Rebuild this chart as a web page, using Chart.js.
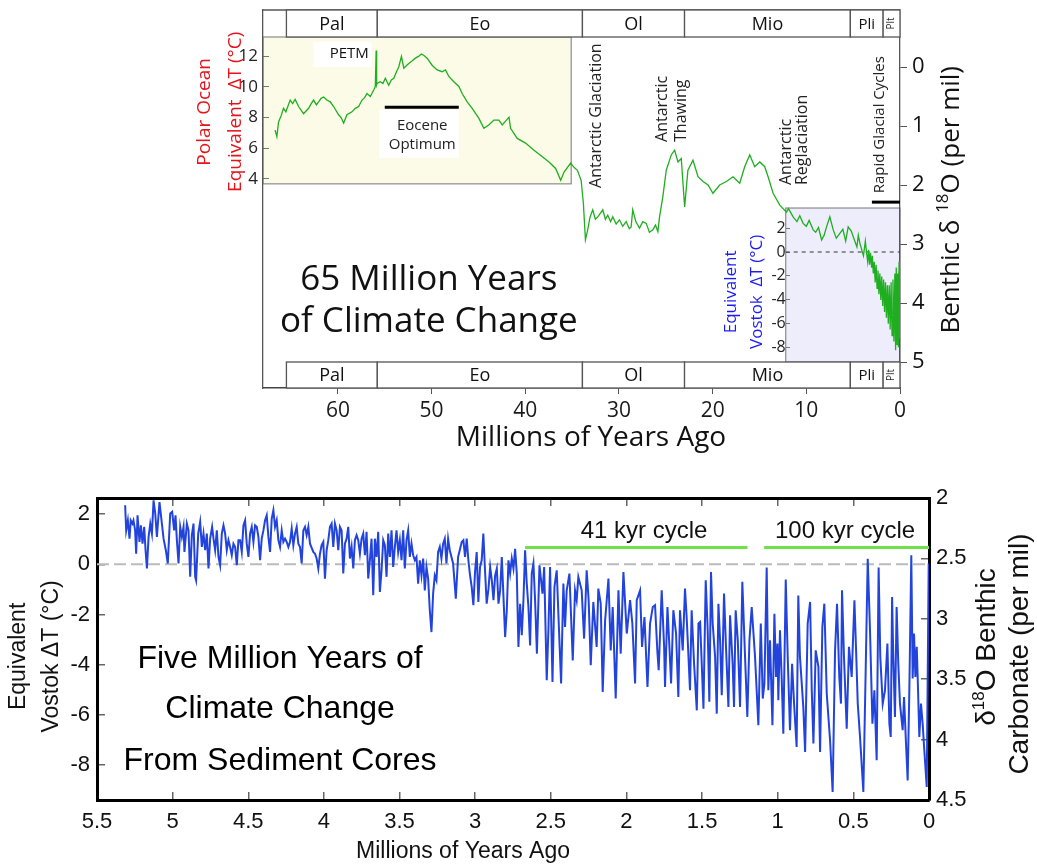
<!DOCTYPE html>
<html>
<head>
<meta charset="utf-8">
<title>65 Million Years of Climate Change</title>
<script src="https://cdn.jsdelivr.net/npm/chart.js@4.4.1/dist/chart.umd.min.js"></script>
<style>
html,body{margin:0;padding:0;background:#fff;overflow:hidden;}
#topChart{position:absolute;left:0;top:0;}
#bottomChart{position:absolute;left:0;top:465px;}
</style>
</head>
<body>
<canvas id="topChart" width="1037" height="465"></canvas>
<canvas id="bottomChart" width="1037" height="400"></canvas>
<script>
// ================= DATA =================
// Cenozoic benthic d18O record (Myr ago, per mil)
const cenozoicAge = [66.71,66.52,66.34,66.05,65.81,65.56,65.10,64.84,64.57,64.20,63.90,63.67,63.13,62.85,62.60,62.30,62.06,61.80,61.53,61.18,60.82,60.46,59.93,59.65,59.39,59.04,58.50,58.15,57.79,57.43,57.15,56.90,56.54,56.18,56.01,55.92,55.87,55.83,55.47,55.20,54.94,54.58,54.30,54.04,53.75,53.51,53.22,52.97,52.70,52.44,52.10,51.73,51.40,51.09,50.78,50.48,49.95,49.41,48.88,48.52,48.16,47.63,47.09,46.74,46.20,45.67,44.95,44.42,43.87,43.35,42.81,42.46,41.74,41.57,40.86,39.97,39.07,38.18,37.47,36.76,36.22,35.86,35.16,34.80,34.44,34.04,33.80,33.58,33.34,33.10,32.80,32.52,32.26,31.73,31.45,31.20,30.90,30.66,30.30,29.95,29.60,29.23,28.90,28.70,28.53,28.20,27.81,27.45,27.09,26.75,26.38,26.10,25.85,25.67,25.32,24.95,24.42,24.06,23.70,23.35,22.99,22.64,22.10,21.56,21.03,20.49,19.97,19.25,18.53,17.83,17.11,16.58,16.04,15.51,14.97,14.44,14.08,13.55,12.83,12.12,11.90,11.41,11.00,10.70,10.34,10.00,9.70,9.27,9.00,8.70,8.37,8.10,7.84,7.49,7.13,6.80,6.42,6.10,5.80,5.53,5.20,4.98,4.60,4.45,4.28,3.90,3.70,3.56,3.45,3.35,3.25,3.15,3.03,2.95,2.85,2.75,2.65,2.55,2.45,2.35,2.25,2.15,2.05,1.95,1.85,1.75,1.65,1.55,1.45,1.35,1.25,1.15,1.05,0.95,0.85,0.75,0.65,0.55,0.47,0.40,0.32,0.25,0.17,0.10,0.05,0.01];
const cenozoicD18O = [1.07,1.18,0.93,0.82,0.70,0.76,0.56,0.62,0.55,0.67,0.74,0.79,0.70,0.62,0.56,0.64,0.59,0.53,0.51,0.56,0.59,0.67,0.81,0.86,0.95,0.81,0.76,0.70,0.67,0.56,0.52,0.45,0.50,0.39,0.33,-0.28,0.30,0.28,0.25,0.28,0.19,0.31,0.22,0.19,0.08,0.00,-0.18,0.02,-0.02,-0.06,-0.10,-0.15,-0.18,-0.22,-0.19,-0.15,-0.03,0.05,0.08,0.05,0.16,0.25,0.33,0.45,0.59,0.70,0.87,1.04,0.98,0.90,0.90,0.98,0.85,1.04,1.21,1.29,1.41,1.52,1.61,1.72,1.92,1.78,1.63,1.70,1.75,1.92,2.31,2.93,2.76,2.55,2.42,2.58,2.54,2.42,2.58,2.51,2.62,2.54,2.66,2.59,2.70,2.62,2.74,2.71,2.42,2.62,2.73,2.62,2.65,2.80,2.76,2.68,2.79,2.54,2.20,1.75,1.49,1.41,1.61,1.55,2.37,1.75,1.58,1.86,1.94,2.00,2.14,2.00,1.94,1.86,1.97,1.69,1.49,1.69,1.61,1.69,1.86,2.14,2.34,2.46,2.40,2.54,2.62,2.52,2.65,2.70,2.60,2.76,2.80,2.72,2.93,2.85,2.71,2.54,2.76,2.90,2.82,2.75,2.95,2.71,2.78,2.88,3.05,2.85,2.99,3.20,2.95,3.16,3.30,3.10,3.35,3.15,3.40,3.20,3.50,3.30,3.65,3.35,3.75,3.45,3.85,3.50,3.95,3.55,4.05,3.60,4.15,3.65,4.25,3.70,4.35,3.70,4.45,3.65,4.55,3.60,4.65,3.50,4.80,3.40,4.70,3.50,4.75,3.30,4.60,3.35];

// Plio-Pleistocene stack as equivalent Vostok dT (Myr ago, deg C)
const plioAge = [5.314,5.307,5.296,5.285,5.277,5.266,5.259,5.248,5.241,5.232,5.219,5.210,5.199,5.188,5.179,5.170,5.159,5.148,5.137,5.126,5.115,5.104,5.087,5.071,5.060,5.045,5.032,5.016,5.003,4.990,4.981,4.972,4.961,4.950,4.939,4.928,4.922,4.906,4.895,4.884,4.873,4.862,4.851,4.845,4.831,4.818,4.807,4.796,4.785,4.774,4.763,4.752,4.739,4.730,4.719,4.708,4.697,4.686,4.675,4.664,4.653,4.642,4.631,4.620,4.609,4.598,4.587,4.576,4.565,4.554,4.543,4.532,4.521,4.510,4.499,4.488,4.477,4.466,4.455,4.444,4.433,4.422,4.411,4.400,4.389,4.378,4.367,4.356,4.345,4.334,4.323,4.312,4.301,4.290,4.279,4.268,4.257,4.246,4.235,4.224,4.213,4.202,4.191,4.180,4.169,4.158,4.147,4.136,4.125,4.114,4.103,4.092,4.070,4.059,4.048,4.037,4.026,4.015,4.004,3.993,3.982,3.971,3.960,3.949,3.938,3.927,3.916,3.905,3.894,3.883,3.872,3.861,3.850,3.839,3.828,3.817,3.806,3.795,3.784,3.773,3.762,3.751,3.740,3.729,3.718,3.707,3.696,3.685,3.674,3.663,3.652,3.641,3.630,3.619,3.608,3.597,3.586,3.575,3.564,3.553,3.542,3.531,3.520,3.509,3.498,3.487,3.476,3.465,3.454,3.443,3.432,3.421,3.410,3.399,3.388,3.377,3.366,3.355,3.344,3.333,3.322,3.311,3.300,3.289,3.278,3.267,3.256,3.245,3.234,3.223,3.212,3.201,3.190,3.179,3.168,3.146,3.128,3.113,3.102,
3.089,3.078,3.067,3.056,3.045,3.034,3.023,3.012,3.001,2.990,2.979,2.968,2.957,2.946,2.935,2.924,2.912,2.901,2.890,2.879,2.868,2.857,2.846,2.835,2.824,2.813,2.802,2.791,2.780,2.769,2.758,2.747,2.736,2.725,2.714,2.703,2.692,2.681,2.670,2.659,2.648,2.637,2.626,2.615,2.604,2.592,2.575,2.555,2.544,2.527,2.516,2.505,2.489,2.476,2.461,2.445,2.432,2.417,2.406,2.395,2.377,2.355,2.340,2.329,2.318,2.296,2.280,2.263,2.250,2.236,2.219,2.197,2.186,2.170,2.157,2.141,2.119,2.104,2.091,2.071,2.053,2.038,2.020,1.998,1.976,1.961,1.943,1.932,1.910,1.897,1.881,1.861,1.844,1.826,1.811,1.796,1.787,
1.767,1.751,1.745,1.729,1.716,1.705,1.690,1.672,1.657,1.646,1.628,1.613,1.602,1.580,1.569,1.553,1.535,1.524,1.513,1.491,1.476,1.463,1.452,1.441,1.430,1.414,1.403,1.392,1.381,1.370,1.355,1.342,1.326,1.315,1.298,1.289,1.278,1.264,1.249,1.234,1.216,1.201,1.187,1.172,1.150,1.128,1.112,1.099,1.088,1.073,1.062,1.051,1.035,1.022,1.011,1.002,0.996,0.985,0.974,0.963,0.947,0.934,0.919,0.905,0.892,0.875,0.864,0.853,0.831,0.819,0.802,0.786,0.775,0.764,0.749,0.731,0.720,0.705,0.692,0.676,0.654,0.637,0.621,0.608,0.593,0.582,0.575,0.562,0.544,0.529,0.511,0.493,0.482,0.471,0.456,0.434,0.419,0.405,0.390,0.374,0.361,0.346,0.333,0.322,0.306,0.291,0.275,0.262,0.253,0.244,0.236,0.225,0.214,0.203,0.192,0.174,0.165,0.152,0.141,0.130,0.117,0.108,0.099,0.090,0.081,0.073,0.064,0.053,0.042,0.031,0.015,0.002];
const plioDT = [2.35,1.35,1.75,1.02,1.75,1.62,1.75,1.35,0.42,1.95,0.89,1.55,0.82,1.49,0.56,-0.17,1.09,1.62,1.22,2.55,2.02,1.09,2.48,1.62,1.02,0.56,0.03,2.02,2.09,1.35,1.95,0.96,0.03,1.49,1.09,1.49,0.49,1.62,1.35,-0.50,1.16,1.62,-0.50,-0.64,1.22,1.69,0.69,1.22,0.56,1.22,-0.17,1.02,1.49,1.02,0.56,1.35,0.29,-0.04,1.22,1.55,1.22,0.56,0.96,0.69,0.36,0.82,0.69,-0.04,0.96,0.96,0.49,1.55,1.75,0.82,0.29,1.22,1.49,0.89,1.55,1.49,1.09,0.16,1.02,1.35,1.75,1.95,1.09,0.49,1.82,2.15,1.49,1.75,0.96,0.69,1.35,0.89,1.02,0.89,0.69,0.89,1.42,0.76,1.22,1.49,0.82,0.69,0.03,1.35,1.49,1.16,1.49,0.82,0.49,0.42,0.23,-0.17,0.42,0.76,0.89,-0.57,0.56,0.96,1.49,1.62,0.69,1.62,1.35,0.56,1.49,1.35,-0.37,0.82,1.02,1.49,0.23,0.69,-0.17,0.96,1.16,0.96,0.42,1.02,1.22,0.36,1.29,-0.57,0.16,1.02,-1.23,1.02,0.29,1.29,-1.10,-0.24,0.96,0.76,-0.50,1.22,0.29,1.35,-0.11,0.69,1.35,0.49,0.96,0.16,1.35,-0.17,0.96,1.35,0.29,0.82,0.36,0.16,0.29,-0.77,0.16,-0.44,0.23,-1.04,-0.11,-0.57,-1.83,-2.70,-1.17,-0.44,-0.64,0.49,0.69,0.23,0.82,1.02,0.03,1.02,0.56,0.03,-1.37,0.29,0.56,
0.89,0.96,0.29,1.02,0.16,-0.44,-0.90,-1.63,-0.31,0.49,-1.50,-0.11,0.16,1.22,-0.24,-1.57,-0.97,-0.11,-0.64,-1.43,-0.44,-0.17,-1.57,-1.04,0.29,-1.30,-2.90,-1.83,0.16,-0.37,0.23,-0.17,0.62,-0.37,-3.29,-1.57,-2.83,-1.43,0.56,-0.77,-1.70,-3.23,-0.37,0.03,-1.43,-3.56,-0.04,-1.17,-0.11,-4.62,-2.63,-0.11,-4.69,-0.90,-0.24,-2.76,-4.75,-0.77,-2.50,-1.04,-0.37,-3.83,-1.04,-1.43,-0.50,-1.04,-2.96,-0.24,-1.43,-4.02,-1.50,-3.29,-0.97,-1.57,-5.09,-2.23,-0.57,-3.43,-1.70,-5.35,-1.04,-3.56,-0.31,-2.76,-1.43,-2.36,-4.75,-1.43,-1.04,-3.29,-2.10,-4.89,-2.36,-1.70,-1.63,-3.43,-4.22,
-1.04,-3.29,-4.89,-1.70,-3.29,-4.75,-1.83,-2.76,-5.29,-1.83,-3.43,-0.97,-2.10,-5.02,-1.83,-3.96,-5.82,-2.36,-2.30,-5.75,-0.64,-2.63,-5.48,-0.31,-2.36,-3.69,-5.95,-1.57,-3.03,-5.22,-1.17,-3.29,-5.68,-2.03,-3.96,-5.68,-1.83,-3.03,-5.68,-0.70,-3.69,-6.08,-3.03,-1.70,-3.69,-6.41,-2.36,-5.35,-4.75,-0.13,-5.02,-3.03,-6.41,-1.97,-4.49,-3.16,-5.42,-2.63,-4.49,-6.75,-0.61,-3.69,-6.61,-3.96,-5.55,-7.28,-1.24,-3.69,-5.68,-7.48,-2.36,-1.50,-5.02,-7.14,-3.43,-4.09,-7.48,-2.50,-1.57,-5.15,-7.01,-9.07,-3.43,-1.57,-4.49,-5.55,-1.04,-3.69,-6.55,-3.29,-4.49,-1.43,-3.43,-5.55,-6.88,-9.07,-4.36,0.22,-2.63,-6.35,-5.02,-7.81,-0.13,-3.69,-5.55,-5.02,-3.16,-6.35,-6.88,-1.30,-3.69,-6.08,-1.70,-3.96,-5.55,-6.61,-5.29,-7.14,-8.61,-5.02,0.36,-4.55,-2.76,-4.49,-3.29,-4.89,-6.88,-5.55,-6.35,-7.41,-8.87,0.03];

// Geological periods (Myr ago)
const periodNames = ['Pal', 'Eo', 'Ol', 'Mio', 'Pli', 'Plt'];
const periodStart = [65.5, 55.8, 33.9, 23.0, 5.3, 1.8];
const periodEnd = [55.8, 33.9, 23.0, 5.3, 1.8, 0];

// Tick labels
const topAgeTicks = [60, 50, 40, 30, 20, 10, 0];
const topD18Ticks = [0, 1, 2, 3, 4, 5];
const polarTicks = [12, 10, 8, 6, 4];
const vostokTicks = [2, 0, -2, -4, -6, -8];
const bottomAgeTicks = [5.5, 5, 4.5, 4, 3.5, 3, 2.5, 2, 1.5, 1, 0.5, 0];
const bottomDTTicks = [2, 0, -2, -4, -6, -8];
const bottomD18Ticks = [2, 2.5, 3, 3.5, 4, 4.5];

// Marker bars
const eoceneOptimumAge = [55.0, 47.1];
const eoceneOptimumD18 = [0.68, 0.68];
const rapidCyclesAge = [3.0, 0];
const rapidCyclesD18 = [2.29, 2.29];
const vostokZeroAge = [12.2, 0];
const vostokZeroDT = [0, 0];
const cycle41Age = [2.67, 1.20];
const cycle100Age = [1.09, 0];
const cycleBarDT = [0.665, 0.665];
const zeroLineAge = [5.5, 0];
const zeroLineDT = [0, 0];

// ================= HELPERS =================
const pts = (xs, ys) => xs.map((v, i) => ({x: v, y: ys[i]}));
const fixTicks = arr => scale => { scale.ticks = arr.map(v => ({value: v})); };
const TOPF = 'Open Sans';
const BOTF = 'Liberation Sans';

function txt(ctx, s, x, y, font, color, align, base) {
  ctx.font = font; ctx.fillStyle = color;
  ctx.textAlign = align || 'center'; ctx.textBaseline = base || 'middle';
  ctx.fillText(s, x, y);
}
function vtxt(ctx, s, x, y, font, color, align) {
  ctx.save(); ctx.translate(x, y); ctx.rotate(-Math.PI / 2);
  txt(ctx, s, 0, 0, font, color, align || 'center', 'middle');
  ctx.restore();
}
function vsup(ctx, parts, x, y, family, color) {
  ctx.save(); ctx.translate(x, y); ctx.rotate(-Math.PI / 2);
  ctx.fillStyle = color; ctx.textBaseline = 'alphabetic'; ctx.textAlign = 'left';
  let w = 0;
  const ws = parts.map(p => { ctx.font = p[1] + 'px "' + family + '"'; const m = ctx.measureText(p[0]).width; w += m; return m; });
  let cx = -w / 2;
  const base = parts[0][1] * 0.36;
  parts.forEach((p, i) => { ctx.font = p[1] + 'px "' + family + '"'; ctx.fillText(p[0], cx, base - p[2]); cx += ws[i]; });
  ctx.restore();
}

// ================= TOP CHART =================
const topDecor = {
  id: 'topDecor',
  beforeDraw(chart) {
    const {ctx, chartArea: ca, scales} = chart;
    const X = v => scales.x.getPixelForValue(v), Y = v => scales.yD18.getPixelForValue(v);
    ctx.save();
    let l = ca.left, r = X(35.1), t = ca.top + 27, b = Y(1.98);
    ctx.fillStyle = '#fbfbe7'; ctx.fillRect(l, t, r - l, b - t);
    ctx.strokeStyle = '#8c8c8c'; ctx.lineWidth = 1.2; ctx.strokeRect(l, t, r - l, b - t);
    l = X(12.2); r = ca.right; t = Y(2.39); b = ca.bottom - 26;
    ctx.fillStyle = '#ededfb'; ctx.fillRect(l, t, r - l, b - t);
    ctx.strokeRect(l, t, r - l, b - t);
    ctx.fillStyle = '#ffffff';
    ctx.fillRect(X(62.6), Y(-0.42), X(56.4) - X(62.6), Y(0.0) - Y(-0.42));
    ctx.fillRect(X(55.6), Y(0.73), X(47.1) - X(55.6), Y(1.54) - Y(0.73));
    ctx.restore();
  },
  afterDatasetsDraw(chart) {
    const {ctx, chartArea: ca, scales} = chart;
    const X = v => scales.x.getPixelForValue(v), Y = v => scales.yD18.getPixelForValue(v);
    ctx.save();
    ctx.strokeStyle = '#555'; ctx.lineWidth = 1.3;
    ctx.beginPath(); ctx.moveTo(ca.left, ca.top); ctx.lineTo(ca.right, ca.top); ctx.stroke();
    periodNames.forEach((n, i) => {
      const x1 = X(periodStart[i]), x2 = X(periodEnd[i]);
      [[ca.top, 27], [ca.bottom - 26, 26]].forEach(([y0, h]) => {
        ctx.fillStyle = '#fff'; ctx.fillRect(x1, y0, x2 - x1, h);
        ctx.strokeRect(x1, y0, x2 - x1, h);
        if (n === 'Plt') vtxt(ctx, n, (x1 + x2) / 2, y0 + h / 2, '10px "' + TOPF + '"', '#222');
        else txt(ctx, n, (x1 + x2) / 2, y0 + h / 2 + 1, (n === 'Pli' ? 15 : 18) + 'px "' + TOPF + '"', '#111');
      });
    });
    const f = s => s + 'px "' + TOPF + '"';
    txt(ctx, 'PETM', X(58.8), Y(-0.22), f(15), '#111');
    txt(ctx, 'Eocene', X(51.0), Y(1.0), f(15), '#222');
    txt(ctx, 'Optimum', X(51.0), Y(1.32), f(15), '#222');
    vtxt(ctx, 'Antarctic Glaciation', X(32.4), Y(2.05), f(16), '#222', 'left');
    vtxt(ctx, 'Antarctic', X(25.35), Y(1.27), f(16), '#222', 'left');
    vtxt(ctx, 'Thawing', X(23.3), Y(1.27), f(16), '#222', 'left');
    vtxt(ctx, 'Antarctic', X(12.1), Y(2.0), f(16), '#222', 'left');
    vtxt(ctx, 'Reglaciation', X(10.4), Y(2.0), f(16), '#222', 'left');
    vtxt(ctx, 'Rapid Glacial Cycles', X(2.14), Y(2.14), f(15), '#222', 'left');
    txt(ctx, '65 Million Years', X(50.3), Y(3.61), f(35), '#111');
    txt(ctx, 'of Climate Change', X(50.3), Y(4.32), f(35), '#111');
    vtxt(ctx, 'Polar Ocean', 205, Y(0.76), f(19), '#e3141b');
    vtxt(ctx, 'Equivalent  \u0394T (\u00B0C)', 236, Y(0.76), f(19), '#e3141b');
    vtxt(ctx, 'Equivalent', X(18.07), Y(3.81), f(17), '#1c1cf0');
    vtxt(ctx, 'Vostok  \u0394T (\u00B0C)', X(15.3), Y(3.81), f(17), '#1c1cf0');
    vsup(ctx, [['Benthic \u03B4 ', 26, 0], ['18', 17, 11], ['O (per mil)', 26, 0]], 950, Y(2.25), TOPF, '#111');
    txt(ctx, 'Millions of Years Ago', 591, 438, f(28), '#111');
    ctx.restore();
  }
};

const topTickFont = s => ({family: TOPF, size: s});
new Chart(document.getElementById('topChart'), {
  type: 'line',
  data: {
    datasets: [
      {data: pts(cenozoicAge, cenozoicD18O), xAxisID: 'x', yAxisID: 'yD18', borderColor: '#1fae1f', borderWidth: 1.3, pointRadius: 0, tension: 0},
      {data: pts(eoceneOptimumAge, eoceneOptimumD18), xAxisID: 'x', yAxisID: 'yD18', borderColor: '#000', borderWidth: 3, pointRadius: 0},
      {data: pts(rapidCyclesAge, rapidCyclesD18), xAxisID: 'x', yAxisID: 'yD18', borderColor: '#000', borderWidth: 3, pointRadius: 0},
      {data: pts(vostokZeroAge, vostokZeroDT), xAxisID: 'x', yAxisID: 'yVostok', borderColor: '#333', borderWidth: 1, borderDash: [4, 4], pointRadius: 0}
    ]
  },
  options: {
    responsive: false, animation: false, events: [],
    layout: {padding: {top: 10, left: 0, right: 0, bottom: 0}},
    plugins: {legend: {display: false}, tooltip: {enabled: false}},
    scales: {
      x: {
        type: 'linear', position: 'bottom', reverse: true, min: 0, max: 68,
        afterBuildTicks: fixTicks(topAgeTicks),
        afterFit: s => { s.height = 77; s.paddingLeft = 0; s.paddingRight = 0; },
        grid: {drawOnChartArea: false, drawTicks: true, tickLength: 6, color: '#555', lineWidth: 1},
        border: {display: true, color: '#444', width: 1.5},
        ticks: {padding: 4, color: '#1a1a1a', font: topTickFont(21), maxRotation: 0, autoSkip: false, callback: v => String(v)}
      },
      yD18: {
        type: 'linear', position: 'right', reverse: true, min: -0.966, max: 5.44,
        afterBuildTicks: fixTicks(topD18Ticks),
        afterFit: s => { s.width = 137; s.paddingTop = 0; s.paddingBottom = 0; },
        grid: {drawOnChartArea: false, drawTicks: true, tickLength: 7, color: '#555', lineWidth: 1},
        border: {display: true, color: '#555', width: 1.3},
        ticks: {padding: 5, color: '#111', font: topTickFont(22), autoSkip: false, callback: v => String(v)}
      },
      yPolar: {
        type: 'linear', position: 'left', min: -9.63, max: 15.0,
        afterBuildTicks: fixTicks(polarTicks),
        afterFit: s => { s.width = 263; s.paddingTop = 0; s.paddingBottom = 0; },
        grid: {drawOnChartArea: false, drawTicks: true, tickLength: -6, color: '#777', lineWidth: 1},
        border: {display: true, color: '#555', width: 1.3},
        ticks: {padding: 11, color: '#222', font: topTickFont(17), autoSkip: false, callback: v => String(v)}
      },
      yVostok: {
        type: 'linear', position: {x: 12.2}, min: -11.43, max: 20.34,
        afterBuildTicks: fixTicks(vostokTicks),
        afterFit: s => { s.paddingTop = 0; s.paddingBottom = 0; },
        grid: {drawOnChartArea: false, drawTicks: true, tickLength: -4, color: '#777', lineWidth: 1},
        border: {display: false},
        ticks: {padding: 6, color: '#222', font: topTickFont(16), autoSkip: false, callback: v => String(v)}
      }
    }
  },
  plugins: [topDecor]
});

// ================= BOTTOM CHART =================
const bottomDecor = {
  id: 'bottomDecor',
  afterDraw(chart) {
    const {ctx, scales} = chart;
    const X = v => scales.x.getPixelForValue(v), Y = v => scales.yDT.getPixelForValue(v);
    const f = s => s + 'px "' + BOTF + '"';
    ctx.save();
    txt(ctx, '41 kyr cycle', X(1.884), Y(1.33), f(24), '#111');
    txt(ctx, '100 kyr cycle', X(0.555), Y(1.33), f(24), '#111');
    txt(ctx, 'Five Million Years of', X(4.29), Y(-3.78), f(32), '#000');
    txt(ctx, 'Climate Change', X(4.29), Y(-5.76), f(32), '#000');
    txt(ctx, 'From Sediment Cores', X(4.29), Y(-7.85), f(32), '#000');
    vtxt(ctx, 'Equivalent', 19, Y(-3.67), f(23), '#111');
    vtxt(ctx, 'Vostok \u0394T (\u00B0C)', 52, Y(-3.67), f(23), '#111');
    vsup(ctx, [['\u03B4', 28, 0], ['18', 17, 11], ['O Benthic', 28, 0]], 985, 182, BOTF, '#111');
    vtxt(ctx, 'Carbonate (per mil)', 1020, 189, f(28), '#111');
    txt(ctx, 'Millions of Years Ago', 463, 387, f(23), '#111');
    ctx.restore();
  }
};

const botTickFont = {family: BOTF, size: 22};
const botGrid = {drawOnChartArea: false, drawTicks: true, tickLength: -8, color: '#666', lineWidth: 1.5};
const botBorder = {display: true, color: '#000', width: 3};
new Chart(document.getElementById('bottomChart'), {
  type: 'line',
  data: {
    datasets: [
      {data: pts(plioAge, plioDT), xAxisID: 'x', yAxisID: 'yDT', borderColor: '#2244dd', borderWidth: 2, pointRadius: 0, tension: 0},
      {data: pts(cycle41Age, cycleBarDT), xAxisID: 'x', yAxisID: 'yDT', borderColor: '#6ee04a', borderWidth: 3, pointRadius: 0},
      {data: pts(cycle100Age, cycleBarDT), xAxisID: 'x', yAxisID: 'yDT', borderColor: '#6ee04a', borderWidth: 3, pointRadius: 0},
      {data: pts(zeroLineAge, zeroLineDT), xAxisID: 'x', yAxisID: 'yDT', borderColor: '#bbbbbb', borderWidth: 2, borderDash: [12, 5], pointRadius: 0}
    ]
  },
  options: {
    responsive: false, animation: false, events: [],
    layout: {padding: {top: 33, left: 0, right: 0, bottom: 0}},
    plugins: {legend: {display: false}, tooltip: {enabled: false}},
    scales: {
      x: {
        type: 'linear', position: 'bottom', reverse: true, min: 0, max: 5.5,
        afterBuildTicks: fixTicks(bottomAgeTicks),
        afterFit: s => { s.height = 65; s.paddingLeft = 0; s.paddingRight = 0; },
        grid: botGrid, border: botBorder,
        ticks: {padding: 17, color: '#111', font: botTickFont, maxRotation: 0, autoSkip: false, callback: v => String(v)}
      },
      xTop: {
        type: 'linear', position: 'top', reverse: true, min: 0, max: 5.5,
        afterBuildTicks: fixTicks(bottomAgeTicks),
        afterFit: s => { s.height = 0; s.paddingLeft = 0; s.paddingRight = 0; },
        grid: botGrid, border: botBorder,
        ticks: {display: false}
      },
      yDT: {
        type: 'linear', position: 'left', min: -9.39, max: 2.64,
        afterBuildTicks: fixTicks(bottomDTTicks),
        afterFit: s => { s.width = 97; s.paddingTop = 0; s.paddingBottom = 0; },
        grid: botGrid, border: botBorder,
        ticks: {padding: 15, color: '#111', font: botTickFont, autoSkip: false, callback: v => String(v)}
      },
      yD18: {
        type: 'linear', position: 'right', reverse: true, min: 2, max: 4.5,
        afterBuildTicks: fixTicks(bottomD18Ticks),
        afterFit: s => { s.width = 108; s.paddingTop = 0; s.paddingBottom = 0; },
        grid: botGrid, border: botBorder,
        ticks: {padding: 15, color: '#111', font: botTickFont, autoSkip: false, callback: v => String(v)}
      }
    }
  },
  plugins: [bottomDecor]
});
</script>
</body>
</html>
